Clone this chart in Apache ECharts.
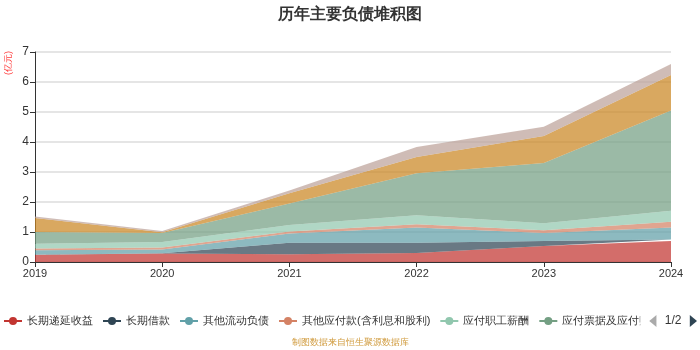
<!DOCTYPE html>
<html>
<head>
<meta charset="utf-8">
<script src="https://cdn.jsdelivr.net/npm/echarts@6/dist/echarts.min.js"></script>
<style>
html, body { margin: 0; padding: 0; background: #fff; }
#chart { width: 700px; height: 350px; }
</style>
</head>
<body>
<div id="chart"></div>
<script>
// years on the x axis
const years = ['2019', '2020', '2021', '2022', '2023', '2024'];

// series names (legend order)
const names = ['长期递延收益', '长期借款', '其他流动负债', '其他应付款(含利息和股利)',
  '应付职工薪酬', '应付票据及应付账款', '短期借款', '应交税费'];

// values in 亿元
const deferredIncome = [0.24, 0.28, 0.26, 0.30, 0.53, 0.70];
const longLoans      = [0.00, 0.01, 0.38, 0.34, 0.17, 0.05];
const otherCurrent   = [0.15, 0.13, 0.31, 0.51, 0.27, 0.40];
const otherPayables  = [0.06, 0.06, 0.07, 0.11, 0.09, 0.19];
const staffPay       = [0.16, 0.19, 0.21, 0.30, 0.23, 0.37];
const notesAccounts  = [0.39, 0.30, 0.72, 1.40, 2.01, 3.34];
const shortLoans     = [0.47, 0.02, 0.34, 0.54, 0.90, 1.18];
const taxes          = [0.05, 0.04, 0.09, 0.33, 0.31, 0.37];

const seriesData = [deferredIncome, longLoans, otherCurrent, otherPayables,
  staffPay, notesAccounts, shortLoans, taxes];

const colors = ['#c23531', '#2f4554', '#61a0a8', '#d48265', '#91c7ae', '#749f83', '#ca8622', '#bda29a'];

var chart = echarts.init(document.getElementById('chart'));

var series = names.map(function (n, i) {
  return {
    name: n,
    type: 'line',
    stack: 'total',
    data: seriesData[i],
    symbol: 'circle',
    symbolSize: 8,
    showSymbol: false,
    lineStyle: { width: 0 },
    areaStyle: { opacity: 0.72 },
    emphasis: { disabled: true }
  };
});

var option = {
  color: colors,
  animation: false,
  title: [{
    text: '历年主要负债堆积图',
    left: 'center',
    top: 2,
    textStyle: { fontSize: 16, fontWeight: 'bold', color: '#333' }
  }, {
    text: '制图数据来自恒生聚源数据库',
    left: 'center',
    top: 338,
    padding: 0,
    textStyle: { fontSize: 9, fontWeight: 'normal', color: '#d09a3c' }
  }],
  legend: {
    type: 'scroll',
    bottom: 18,
    left: 0,
    right: -6,
    padding: [5, 3, 5, 3],
    itemWidth: 18,
    itemHeight: 10,
    itemGap: 9,
    lineStyle: { width: 2 },
    textStyle: { fontSize: 11, color: '#333' },
    pageIconColor: '#2f4554',
    pageIconInactiveColor: '#aaa',
    pageIconSize: 12,
    pageButtonItemGap: 3,
    pageTextStyle: { color: '#333', fontSize: 12 },
    data: names
  },
  grid: { left: 35, right: 29, top: 52, bottom: 88 },
  xAxis: {
    type: 'category',
    boundaryGap: false,
    data: years,
    axisLine: { lineStyle: { color: '#333' } },
    axisTick: { show: true, lineStyle: { color: '#333' } },
    axisLabel: { color: '#333', fontSize: 11, margin: 6 }
  },
  yAxis: {
    type: 'value',
    min: 0,
    max: 7,
    interval: 1,
    axisLine: { show: true, lineStyle: { color: '#333' } },
    axisTick: { show: true, lineStyle: { color: '#333' } },
    axisLabel: { color: '#333', fontSize: 12, margin: 6 },
    splitLine: { lineStyle: { color: '#ddd', width: 1.5 } }
  },
  graphic: [{
    type: 'text',
    x: 4,
    y: 75,
    rotation: Math.PI / 2,
    style: { text: '(亿元)', fill: '#ff3b3b', fontSize: 9 }
  }],
  series: series
};

chart.setOption(option);
</script>
</body>
</html>
